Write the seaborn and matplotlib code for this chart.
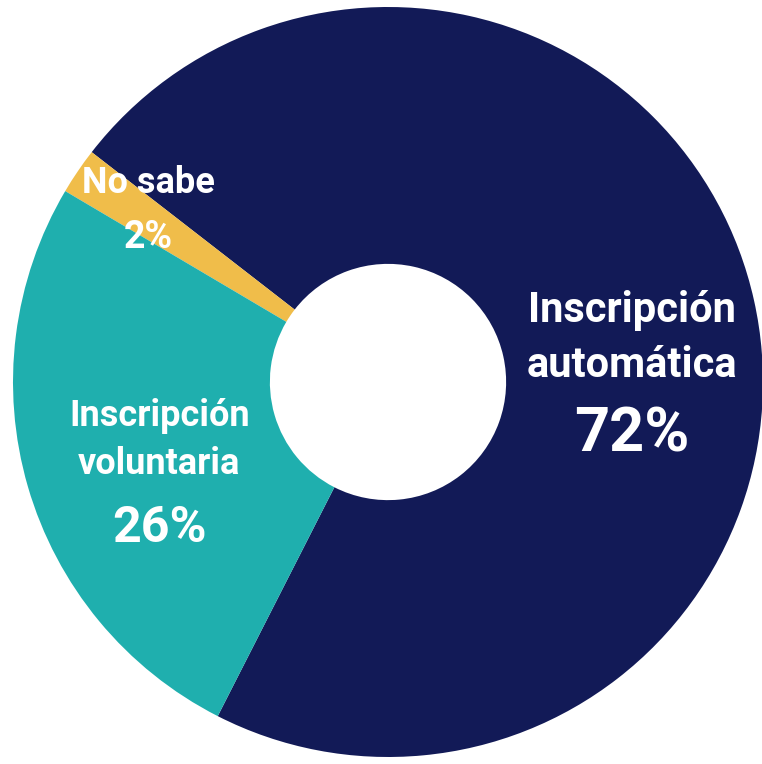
import matplotlib
matplotlib.use("Agg")
import matplotlib.pyplot as plt
import seaborn as sns

# data
categories = ["Inscripción\nautomática", "No sabe", "Inscripción\nvoluntaria"]
shares = [72, 2, 26]
colors = ["#121A57", "#F0BD4A", "#1FAFAE"]

sns.set_theme(style="white")
plt.rcParams["font.family"] = ["Roboto", "DejaVu Sans"]

fig = plt.figure(figsize=(7.62, 7.64), dpi=100)
# place axes so the donut spans nearly the whole image
ax = fig.add_axes([13 / 762, 7 / 764, 750 / 762, 750 / 764])
wedges, _ = ax.pie(shares, colors=colors, startangle=-117, counterclock=True,
                   radius=1.0, wedgeprops=dict(width=0.685, linewidth=0))
ax.set_xlim(-1, 1)
ax.set_ylim(-1, 1)
ax.set_aspect("equal")
ax.axis("off")

# labels (name + percentage)
lab_pos = [(0.65, 0.117, 30, 44, -0.14), (-0.64, 0.53, 26, 27, 0.385), (-0.61, -0.155, 26, 36, -0.39)]
for cat, val, (x, y, fs, fp, yp) in zip(categories, shares, lab_pos):
    ax.text(x, y, cat, ha="center", va="center", color="white",
            fontsize=fs, fontweight="bold", linespacing=1.42)
    ax.text(x, yp, f"{val}%", ha="center", va="center", color="white",
            fontsize=fp, fontweight="bold")

fig.savefig("out.png", dpi=100)
